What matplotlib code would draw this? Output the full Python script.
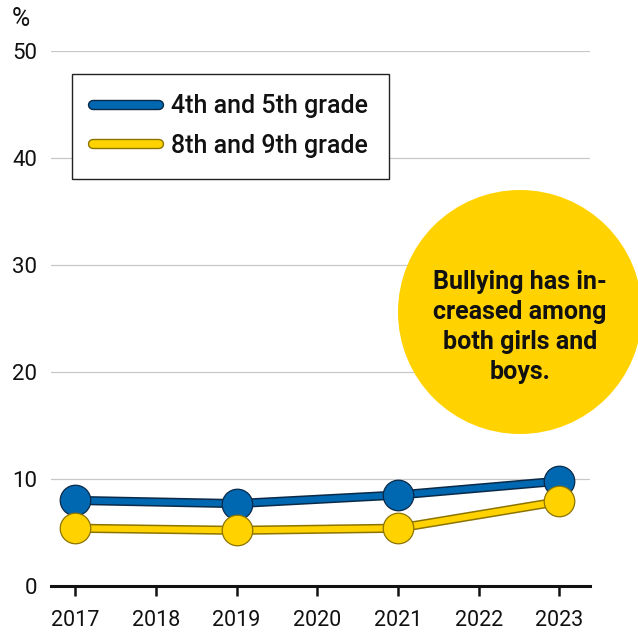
import matplotlib
matplotlib.use("Agg")
import matplotlib.pyplot as plt
import matplotlib.patheffects as pe
from matplotlib.lines import Line2D
from matplotlib.patches import Circle

plt.rcParams['font.family'] = ['Roboto', 'DejaVu Sans']

years = [2017, 2019, 2021, 2023]
grade_4_5 = [8.0, 7.7, 8.5, 9.8]
grade_8_9 = [5.4, 5.2, 5.4, 7.9]
series_labels = ["4th and 5th grade", "8th and 9th grade"]
x_ticks = [2017, 2018, 2019, 2020, 2021, 2022, 2023]
y_ticks = [0, 10, 20, 30, 40, 50]
note = "Bullying has in-\ncreased among\nboth girls and\nboys."

BLUE, BLUE_EDGE = "#0067B1", "#0B2A48"
YELLOW, YELLOW_EDGE = "#FFD200", "#8C7400"

fig = plt.figure(figsize=(6.38, 6.33), dpi=100)
ax = fig.add_axes([51/638, 47/633, 539/638, 535/633])

ax.set_xlim(2016.7, 2023.38)
ax.set_ylim(0, 50)

for y in y_ticks[1:]:
    ax.axhline(y, color="#C8C8C8", lw=0.9, zorder=0)

handles = []
for vals, col, edge, lab in [(grade_4_5, BLUE, BLUE_EDGE, series_labels[0]),
                             (grade_8_9, YELLOW, YELLOW_EDGE, series_labels[1])]:
    ax.plot(years, vals, color=col, lw=4.4, solid_capstyle='round',
            solid_joinstyle='round', zorder=3, clip_on=False,
            path_effects=[pe.Stroke(linewidth=6.6, foreground=edge), pe.Normal()])
    ax.scatter(years, vals, s=22**2, color=col, edgecolor=edge, linewidth=0.9,
               zorder=4, clip_on=False)
    h = Line2D([], [], color=col, lw=5.5, solid_capstyle='round', label=lab,
               path_effects=[pe.Stroke(linewidth=7.5, foreground=edge), pe.Normal()])
    handles.append(h)

for s in ["top", "right", "left"]:
    ax.spines[s].set_visible(False)
ax.spines["bottom"].set_linewidth(2.2)
ax.spines["bottom"].set_color("#111111")

ax.set_xticks(x_ticks)
ax.set_xticklabels([str(t) for t in x_ticks])
ax.set_yticks(y_ticks)
ax.set_yticklabels([str(t) for t in y_ticks])
ax.tick_params(axis='x', length=7, width=1.8, color="#111111", labelsize=15.5,
               pad=10, labelcolor="#111111")
ax.tick_params(axis='y', length=0, labelsize=16, pad=10, labelcolor="#111111")

fig.text(12/638, 1 - 19/633, "%", fontsize=18, va='center', ha='left', color="#111111")

leg = ax.legend(handles=handles, loc='upper left',
                bbox_to_anchor=((72-51)/539, (586-74)/535),
                frameon=True, fancybox=False, framealpha=1, edgecolor="#222222",
                fontsize=18, handlelength=2.65, handletextpad=0.5,
                borderpad=0.82, labelspacing=0.62, borderaxespad=0)
leg.get_frame().set_linewidth(1.0)
for t in leg.get_texts():
    t.set_fontweight('medium')
    t.set_color("#111111")

circ = Circle((5.20, (633-312)/100), 1.22, transform=fig.dpi_scale_trans,
              facecolor=YELLOW, edgecolor='none', zorder=5)
fig.add_artist(circ)
fig.text(5.20/6.38, (633-327)/633, note, ha='center', va='center',
         fontsize=18, fontweight='bold', linespacing=1.3, color="#111111", zorder=6)

fig.savefig("out.png", dpi=100)
